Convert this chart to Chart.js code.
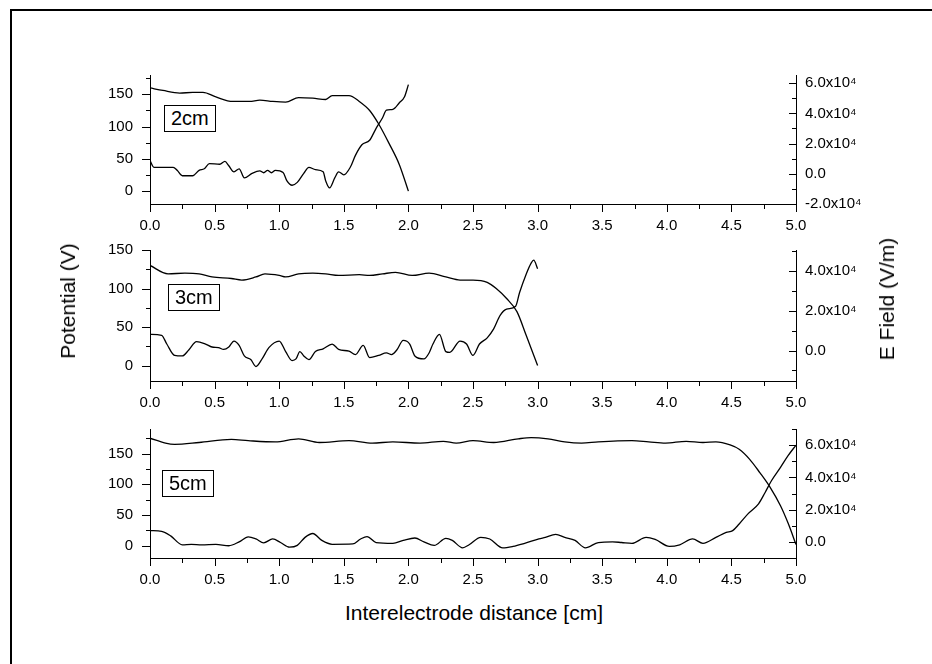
<!DOCTYPE html>
<html>
<head>
<meta charset="utf-8">
<script src="https://cdn.jsdelivr.net/npm/chart.js@4.4.1/dist/chart.umd.min.js"></script>
<style>
  body { margin: 0; background: #fff; width: 932px; height: 664px; position: relative; overflow: hidden;
         font-family: "Liberation Sans", Arial, sans-serif; color: #000; }
  .frame { position: absolute; left: 10px; top: 9px; width: 960px; height: 700px;
           border-top: 2px solid #000; border-left: 2px solid #000; }
  canvas { position: absolute; left: 0; }
  .tag { position: absolute; border: 1px solid #000; font-size: 20px; line-height: 25px; padding: 0 6px; background: #fff; }
  .title { position: absolute; font-size: 21px; white-space: nowrap; transform: translate(-50%, -50%); }
  .vert { transform: translate(-50%, -50%) rotate(-90deg); }
</style>
</head>
<body>
<div class="frame"></div>
<canvas id="p2cm"></canvas>
<canvas id="p3cm"></canvas>
<canvas id="p5cm"></canvas>
<div class="tag" style="left:164px; top:105px;">2cm</div>
<div class="tag" style="left:168px; top:284px;">3cm</div>
<div class="tag" style="left:162px; top:470px;">5cm</div>
<div class="title vert" style="left:68px; top:301px;">Potential (V)</div>
<div class="title vert" style="left:887px; top:299px;">E Field (V/m)</div>
<div class="title" style="left:474px; top:613px;">Interelectrode distance [cm]</div>

<script>
// values: [distance (cm), value]
const pot2cm = [[0,160],[0.1,156],[0.23,152],[0.33,153],[0.41,153],[0.51,146],[0.64,139],[0.77,139],[0.85,141],
  [0.95,139],[1.05,138],[1.15,145],[1.26,144],[1.36,142],[1.41,148],[1.54,148],[1.62,139],[1.70,125],[1.77,104],
  [1.85,74],[1.93,41],[2.0,0]];
const field2cm = [[0,8700],[0.03,4300],[0.18,4300],[0.21,2300],[0.25,-1300],[0.33,-1300],[0.38,2300],[0.42,3300],
  [0.46,6700],[0.54,6300],[0.58,8200],[0.61,5300],[0.65,1300],[0.69,3300],[0.73,-2700],[0.79,300],[0.85,1900],
  [0.88,700],[0.91,2300],[0.94,700],[0.97,2300],[1.03,900],[1.06,-4700],[1.10,-7600],[1.14,-5700],[1.19,300],
  [1.23,4300],[1.28,2700],[1.34,1300],[1.36,-4700],[1.39,-9300],[1.43,-2700],[1.46,1300],[1.50,-700],[1.55,4300],
  [1.59,12200],[1.64,19200],[1.70,22200],[1.75,30100],[1.80,37100],[1.83,42100],[1.88,42700],[1.93,47000],
  [1.97,51000],[2.0,59000]];

const pot3cm = [[0,130],[0.14,119],[0.27,120],[0.38,119],[0.48,115],[0.63,113],[0.71,111],[0.82,115],[0.89,119],
  [1.0,117],[1.05,115],[1.15,119],[1.26,120],[1.36,119],[1.46,117],[1.62,118],[1.70,117],[1.80,119],[1.90,121],
  [2.03,117],[2.16,120],[2.29,115],[2.40,111],[2.50,111],[2.61,108],[2.68,100],[2.76,87],[2.84,70],[2.91,40],[3.0,0]];
const field3cm = [[0,8200],[0.09,7700],[0.13,3300],[0.19,-2400],[0.25,-2700],[0.30,300],[0.36,4500],[0.43,3300],
  [0.48,1800],[0.53,1500],[0.57,600],[0.61,1800],[0.65,4800],[0.69,2600],[0.73,-2700],[0.78,-4500],[0.82,-8000],
  [0.87,-3900],[0.92,1500],[1.0,4800],[1.05,-500],[1.10,-5000],[1.13,-4200],[1.16,-500],[1.19,-2700],[1.23,-4500],
  [1.28,-500],[1.34,900],[1.41,3300],[1.46,600],[1.54,-300],[1.59,-2000],[1.65,2600],[1.70,-3500],[1.77,-2400],
  [1.83,-1200],[1.87,-2000],[1.91,300],[1.96,5100],[2.01,3300],[2.05,-2700],[2.12,-4200],[2.16,-1200],[2.19,3300],
  [2.24,8200],[2.29,-500],[2.32,-900],[2.40,4800],[2.45,3300],[2.50,-2400],[2.55,3300],[2.61,6400],[2.66,10900],
  [2.71,17700],[2.76,20800],[2.83,22300],[2.86,29100],[2.91,38200],[2.95,44000],[2.97,45500],[3.0,41200]];

const pot5cm = [[0,175],[0.12,167],[0.19,165],[0.38,168],[0.63,173],[0.76,171],[0.97,169],[1.15,174],[1.31,168],
  [1.54,171],[1.72,167],[1.88,169],[2.09,167],[2.27,170],[2.37,167],[2.5,171],[2.66,168],[2.85,174],[2.95,176],
  [3.08,174],[3.21,169],[3.34,167],[3.47,169],[3.73,171],[3.86,169],[3.99,167],[4.15,170],[4.28,168],[4.38,169],
  [4.49,164],[4.56,157],[4.64,141],[4.72,119],[4.80,95],[4.88,65],[4.94,36],[5.0,2]];
const field5cm = [[0,7000],[0.09,6500],[0.16,3700],[0.25,-1800],[0.32,-1500],[0.40,-1800],[0.51,-1500],[0.61,-2400],
  [0.69,0],[0.76,3100],[0.82,1800],[0.88,-600],[0.95,1800],[1.01,-400],[1.08,-3300],[1.14,-2200],[1.20,2800],
  [1.26,5200],[1.33,900],[1.41,-1500],[1.57,-1300],[1.63,1800],[1.68,3300],[1.75,-400],[1.88,-900],[1.96,900],
  [2.05,2400],[2.12,0],[2.20,-2200],[2.29,2200],[2.34,900],[2.42,-3700],[2.47,-1800],[2.56,2800],[2.63,1800],
  [2.73,-3700],[2.81,-2800],[2.90,-900],[3.01,1800],[3.06,2800],[3.14,4600],[3.21,2800],[3.29,900],[3.37,-3700],
  [3.47,-400],[3.58,0],[3.65,-400],[3.73,-900],[3.84,2800],[3.91,1500],[4.02,-2800],[4.10,-1800],[4.20,1800],
  [4.28,-900],[4.38,2800],[4.46,5900],[4.51,7000],[4.56,11100],[4.63,17500],[4.71,23600],[4.76,30500],
  [4.81,37900],[4.88,46200],[4.94,53600],[5.0,60000]];

// tick labels
const distTicks = [0, 0.5, 1, 1.5, 2, 2.5, 3, 3.5, 4, 4.5, 5];
const potTicks = [0, 50, 100, 150];
const fieldTicks2cm = [-20000, 0, 20000, 40000, 60000];
const fieldTicks3cm = [0, 20000, 40000];
const fieldTicks5cm = [0, 20000, 40000, 60000];

Chart.defaults.font.family = "'Liberation Sans', Arial, sans-serif";
Chart.defaults.font.size = 15;
Chart.defaults.color = '#000';

const W = 932, LEFT = 150, RIGHT = 796, PADTOP = 12, XAXIS_H = 34;

// draws major + minor tick marks (the library only does one length)
const tickMarks = {
  id: 'tickMarks',
  afterDraw(chart) {
    const ctx = chart.ctx, a = chart.chartArea;
    ctx.save();
    ctx.strokeStyle = '#000';
    ctx.lineWidth = 1;
    ctx.beginPath();
    const each = (scale, fn) => {
      const majors = scale.ticks.map(t => t.value);
      const step = majors[1] - majors[0];
      for (let v = majors[0] - step; v <= scale.max + 1e-9; v += step / 2) {
        if (v < scale.min - 1e-9) continue;
        const isMajor = majors.some(m => Math.abs(m - v) < step * 1e-6);
        fn(Math.round(scale.getPixelForValue(v)) + 0.5, isMajor);
      }
    };
    each(chart.scales.x, (p, major) => { ctx.moveTo(p, a.bottom); ctx.lineTo(p, a.bottom + (major ? 8 : 5)); });
    each(chart.scales.yPot, (p, major) => { ctx.moveTo(a.left, p); ctx.lineTo(a.left - (major ? 8 : 4), p); });
    each(chart.scales.yField, (p, major) => { ctx.moveTo(a.right, p); ctx.lineTo(a.right - (major ? 7 : 4), p); });
    ctx.stroke();
    ctx.restore();
  }
};

function fieldLabel(v) {
  if (v === 0) return '0.0';
  return (v / 10000).toFixed(1) + 'x10\u2074';
}

function makePanel(id, areaTop, areaBottom, potMin, potMax, fMin, fMax, fTicks, pot, field) {
  const cv = document.getElementById(id);
  const h = PADTOP + (areaBottom - areaTop) + XAXIS_H;
  cv.width = W;
  cv.height = h;
  cv.style.top = (areaTop - PADTOP) + 'px';
  const line = (pts, axis) => ({
    data: pts.map(([x, y]) => ({ x, y })),
    yAxisID: axis,
    borderColor: '#000',
    borderWidth: 1.3,
    pointRadius: 0,
    cubicInterpolationMode: 'monotone',
    fill: false
  });
  return new Chart(cv, {
    type: 'line',
    data: { datasets: [line(pot, 'yPot'), line(field, 'yField')] },
    options: {
      responsive: false,
      animation: false,
      layout: { padding: { top: PADTOP, left: 0, right: 0, bottom: 0 } },
      plugins: { legend: { display: false }, tooltip: { enabled: false } },
      scales: {
        x: {
          type: 'linear', min: 0, max: 5,
          afterBuildTicks: s => { s.ticks = distTicks.map(v => ({ value: v })); },
          afterFit: s => { s.height = XAXIS_H; },
          ticks: { padding: 13, maxRotation: 0, autoSkip: false, callback: v => v.toFixed(1) },
          grid: { drawOnChartArea: false, drawTicks: false },
          border: { display: true, color: '#000', width: 1 }
        },
        yPot: {
          type: 'linear', position: 'left', min: potMin, max: potMax,
          afterBuildTicks: s => { s.ticks = potTicks.map(v => ({ value: v })); },
          afterFit: s => { s.width = LEFT; },
          ticks: { padding: 17, callback: v => String(v) },
          grid: { drawOnChartArea: false, drawTicks: false },
          border: { display: true, color: '#000', width: 1 }
        },
        yField: {
          type: 'linear', position: 'right', min: fMin, max: fMax,
          afterBuildTicks: s => { s.ticks = fTicks.map(v => ({ value: v })); },
          afterFit: s => { s.width = W - RIGHT; },
          ticks: { padding: 9, callback: fieldLabel },
          grid: { drawOnChartArea: false, drawTicks: false },
          border: { display: true, color: '#000', width: 1 }
        }
      }
    },
    plugins: [tickMarks]
  });
}

makePanel('p2cm', 61, 204, -20, 180, -20000, 65400, fieldTicks2cm, pot2cm, field2cm);
makePanel('p3cm', 236, 381, -20, 150, -15300, 50600, fieldTicks3cm, pot3cm, field3cm);
makePanel('p5cm', 415, 558, -20, 190, -10000, 70000, fieldTicks5cm, pot5cm, field5cm);
</script>
</body>
</html>
